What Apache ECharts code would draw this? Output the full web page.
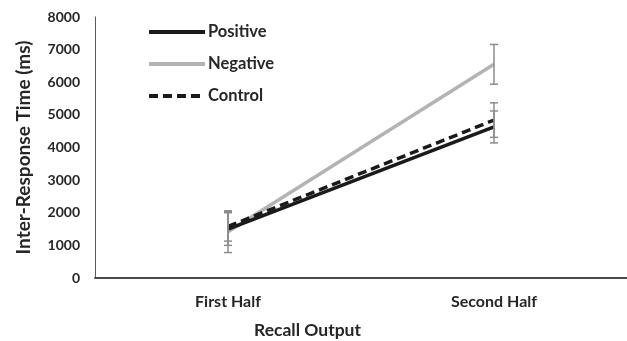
<!DOCTYPE html>
<html>
<head>
<meta charset="utf-8">
<script src="https://cdn.jsdelivr.net/npm/echarts@6/dist/echarts.min.js"></script>
<style>
  html, body { margin: 0; padding: 0; background: #ffffff; }
  #chart { width: 627px; height: 341px; }
</style>
</head>
<body>
<div id="chart"></div>
<script>
// Recall output halves on the x axis
var categories = ['First Half', 'Second Half'];

// Mean inter-response times (ms) per condition
var positiveMeans = [1500, 4630];
var negativeMeans = [1420, 6550];
var controlMeans = [1580, 4840];

// Error bar half-lengths (ms)
var positiveErr = [500, 490];
var negativeErr = [640, 610];
var controlErr = [450, 530];

// Y axis ticks
var yMin = 0, yMax = 8000, yStep = 1000;

var FONT = 'Lato, "Open Sans", sans-serif';
var TEXT = '#262626';

function errorData(means, errs) {
  return means.map(function (m, i) { return [i, m - errs[i], m + errs[i]]; });
}

function renderErrorBar(params, api) {
  var lo = api.coord([api.value(0), api.value(1)]);
  var hi = api.coord([api.value(0), api.value(2)]);
  var cap = 4;
  var style = { stroke: '#8c8c8c', lineWidth: 1.5 };
  return {
    type: 'group',
    children: [
      { type: 'line', shape: { x1: hi[0], y1: hi[1], x2: lo[0], y2: lo[1] }, style: style },
      { type: 'line', shape: { x1: hi[0] - cap, y1: hi[1], x2: hi[0] + cap, y2: hi[1] }, style: style },
      { type: 'line', shape: { x1: lo[0] - cap, y1: lo[1], x2: lo[0] + cap, y2: lo[1] }, style: style }
    ]
  };
}

var chart = echarts.init(document.getElementById('chart'), null, { renderer: 'canvas' });

chart.setOption({
  animation: false,
  backgroundColor: '#ffffff',
  grid: { left: 95, top: 17, width: 544, height: 261 },
  legend: {
    orient: 'vertical',
    left: 142,
    top: 18,
    itemWidth: 56,
    itemHeight: 12,
    itemGap: 14,
    data: ['Positive', 'Negative', 'Control'],
    itemStyle: { opacity: 0 },
    lineStyle: { width: 4 },
    textStyle: { fontFamily: FONT, fontWeight: 'bold', fontSize: 16.5, color: TEXT, lineHeight: 18, padding: [0, 0, 0, -2] }
  },
  xAxis: {
    type: 'category',
    data: categories,
    boundaryGap: true,
    axisLine: { lineStyle: { color: '#4a4a4a', width: 2 } },
    axisTick: { show: false },
    axisLabel: { fontFamily: FONT, fontWeight: 'bold', fontSize: 16, color: TEXT, margin: 16 }
  },
  yAxis: {
    type: 'value',
    min: yMin,
    max: yMax,
    interval: yStep,
    name: 'Inter-Response Time (ms)',
    nameLocation: 'middle',
    nameGap: 62,
    nameTextStyle: { fontFamily: FONT, fontWeight: 'bold', fontSize: 19, color: TEXT },
    axisLine: { show: true, lineStyle: { color: '#595959', width: 1 } },
    axisTick: { show: false },
    splitLine: { show: false },
    axisLabel: { fontFamily: FONT, fontWeight: 'bold', fontSize: 14, color: TEXT, margin: 15, formatter: function (v) { return String(v); } }
  },
  graphic: [{
    type: 'text',
    left: 254,
    top: 321,
    style: { text: 'Recall Output', font: 'bold 17.5px ' + FONT, fill: TEXT }
  }],
  series: [
    {
      name: 'Positive', type: 'line', data: positiveMeans, symbol: 'none',
      lineStyle: { color: '#1a1a1a', width: 3.5 }, itemStyle: { color: '#1a1a1a' }, z: 3
    },
    {
      name: 'Negative', type: 'line', data: negativeMeans, symbol: 'none',
      lineStyle: { color: '#b3b3b3', width: 3.5 }, itemStyle: { color: '#b3b3b3' }, z: 2
    },
    {
      name: 'Control', type: 'line', data: controlMeans, symbol: 'none',
      lineStyle: { color: '#1a1a1a', width: 3.5, type: [9, 5] }, itemStyle: { color: '#1a1a1a' }, z: 4
    },
    { type: 'custom', renderItem: renderErrorBar, data: errorData(positiveMeans, positiveErr), z: 5 },
    { type: 'custom', renderItem: renderErrorBar, data: errorData(negativeMeans, negativeErr), z: 5 },
    { type: 'custom', renderItem: renderErrorBar, data: errorData(controlMeans, controlErr), z: 5 }
  ]
});
</script>
</body>
</html>
